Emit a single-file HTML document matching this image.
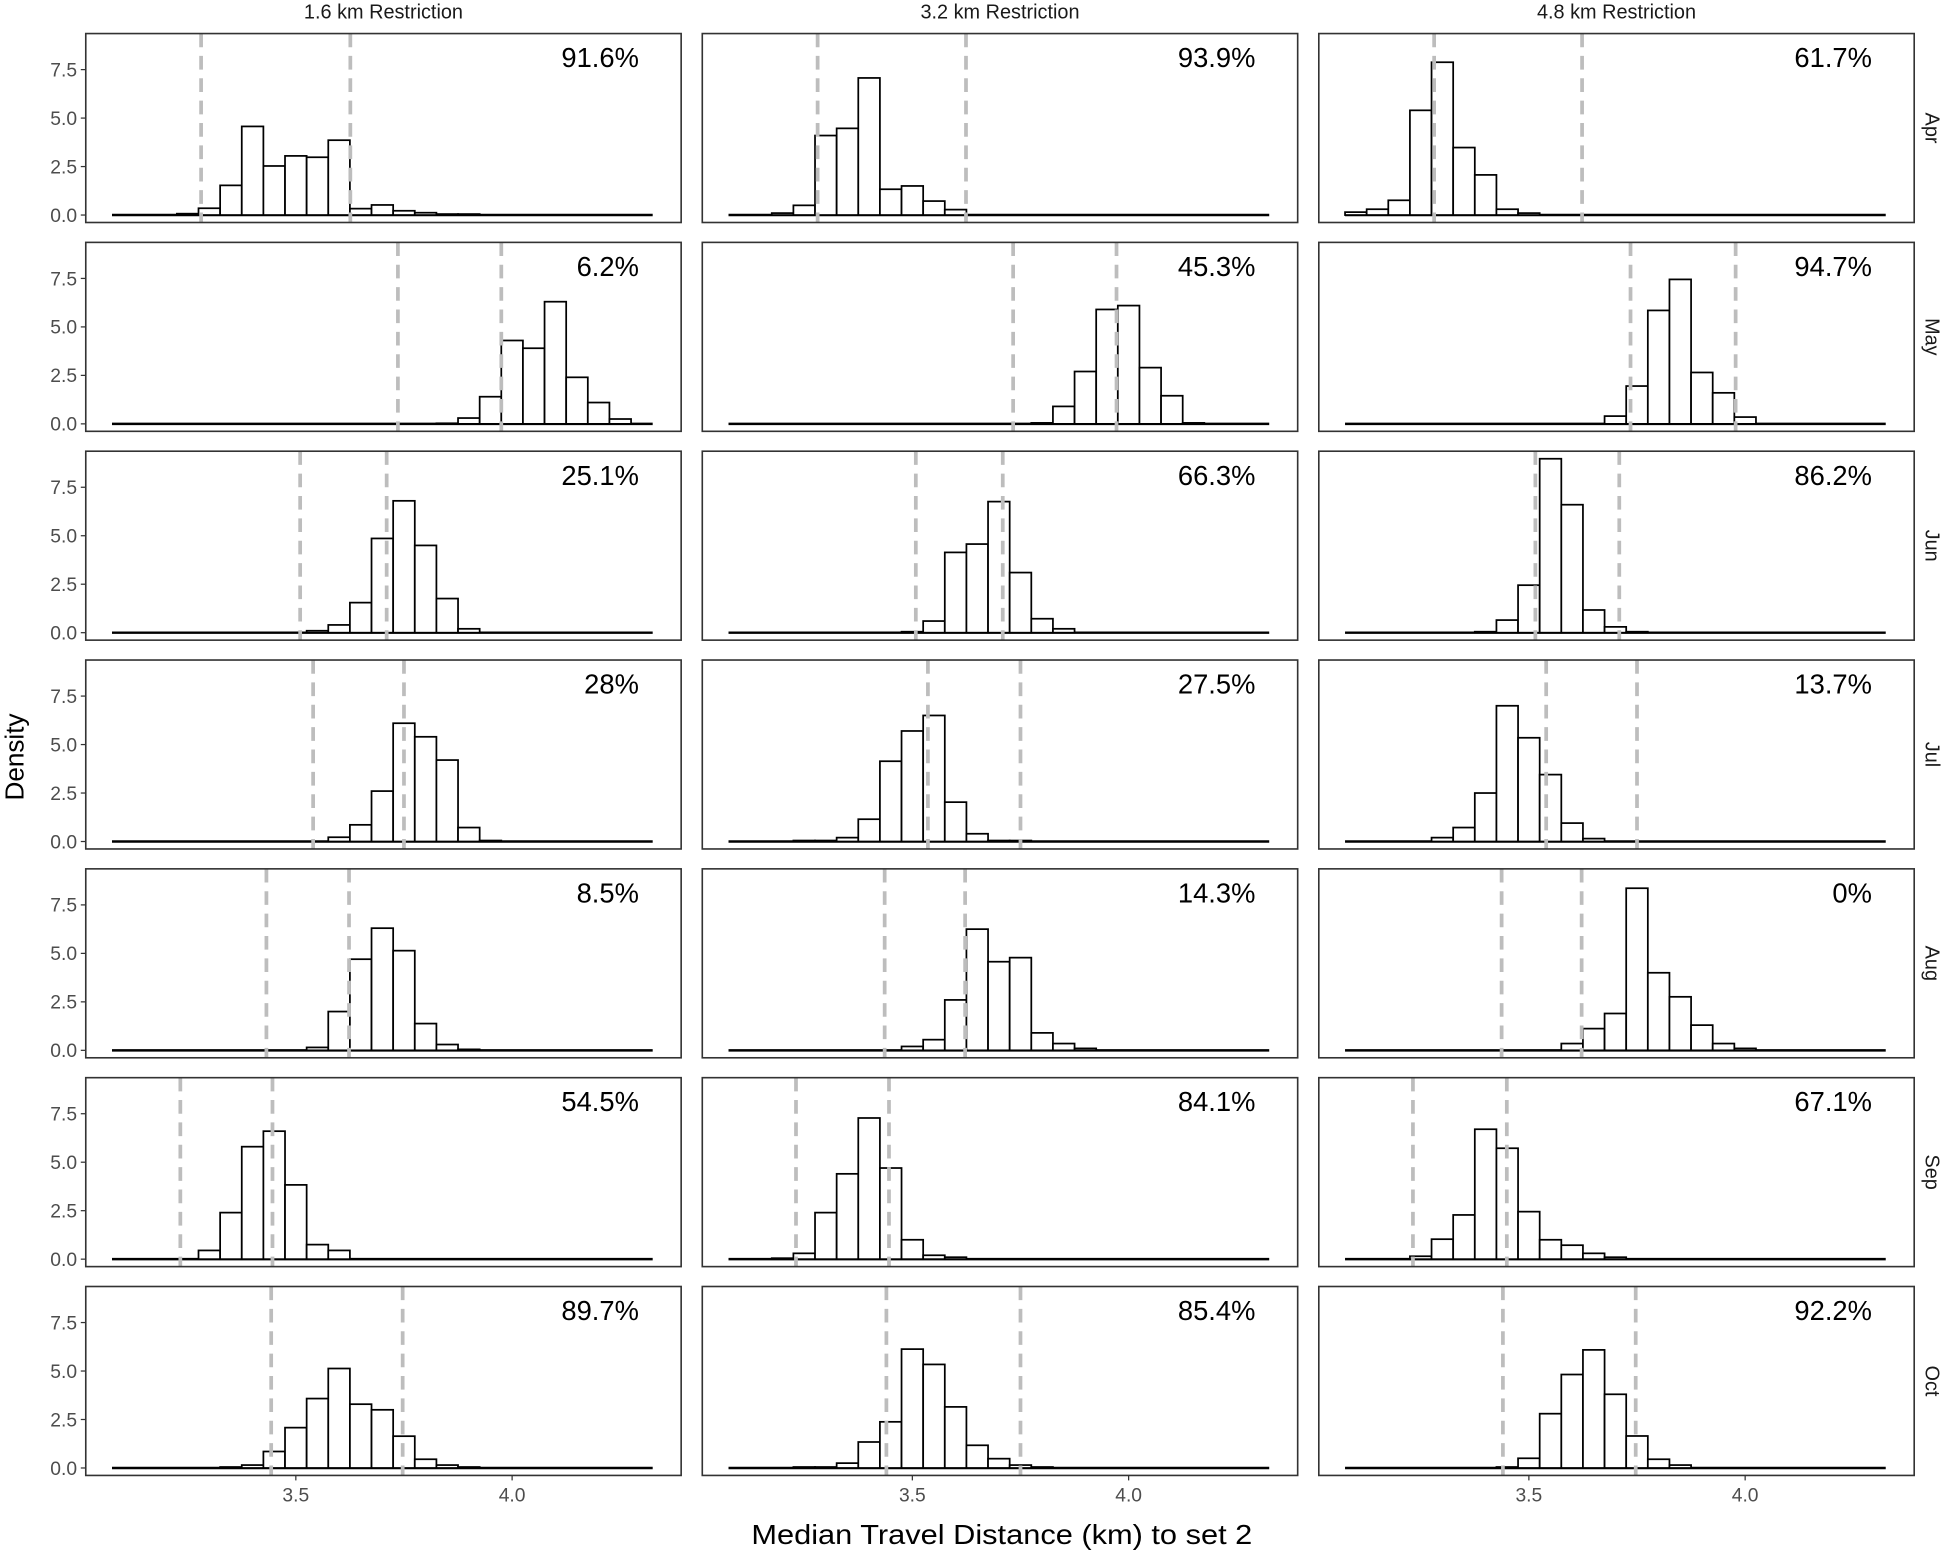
<!DOCTYPE html>
<html><head><meta charset="utf-8">
<style>
html,body{margin:0;padding:0;background:#fff;}
svg{display:block;font-family:"Liberation Sans",Arial,sans-serif;}
</style></head>
<body>
<svg id="chart" width="1949" height="1553" viewBox="0 0 1568 1249.4" preserveAspectRatio="none" xmlns="http://www.w3.org/2000/svg">
<text x="0" y="0" transform="translate(19,609) rotate(-90)" font-size="21" text-anchor="middle" fill="#000">Density</text>
<text x="806" y="1242" font-size="22" text-anchor="middle" textLength="403" lengthAdjust="spacingAndGlyphs" fill="#000">Median Travel Distance (km) to set 2</text>
</svg>
<script>
const columns = ["1.6 km Restriction", "3.2 km Restriction", "4.8 km Restriction"];
const months = ["Apr", "May", "Jun", "Jul", "Aug", "Sep", "Oct"];
const yTicks = [0, 2.5, 5, 7.5];
const yTickLabels = ["0.0", "2.5", "5.0", "7.5"];
const xTicks = [3.5, 4.0];
const xTickLabels = ["3.5", "4.0"];
const binWidth = 0.05;
// first bin centre per panel [month][column]
const binStart = [
  [3.25, 3.20, 3.10],
  [3.85, 3.80, 3.70],
  [3.55, 3.50, 3.40],
  [3.60, 3.25, 3.30],
  [3.55, 3.50, 3.60],
  [3.30, 3.20, 3.25],
  [3.35, 3.25, 3.45]
];
const densities = [
  [[0.07,0.35,1.53,4.57,2.53,3.05,2.98,3.86,0.33,0.52,0.22,0.12,0.05,0.05],
   [0.1,0.5,4.1,4.47,7.07,1.33,1.5,0.72,0.28],
   [0.15,0.3,0.76,5.4,7.88,3.48,2.07,0.3,0.1]],
  [[0.03,0.3,1.4,4.3,3.9,6.3,2.4,1.1,0.25],
   [0.05,0.9,2.7,5.9,6.1,2.9,1.45,0.05],
   [0.4,1.95,5.85,7.45,2.65,1.6,0.35]],
  [[0.1,0.4,1.55,4.86,6.8,4.5,1.76,0.2],
   [0.05,0.6,4.14,4.57,6.76,3.1,0.72,0.2],
   [0.05,0.65,2.45,8.97,6.6,1.17,0.3,0.05]],
  [[0.22,0.86,2.6,6.1,5.4,4.2,0.72,0.05],
   [0.05,0.05,0.2,1.15,4.14,5.7,6.5,2.03,0.4,0.05,0.05],
   [0.2,0.72,2.5,7.0,5.35,3.45,0.95,0.15]],
  [[0.15,2.0,4.7,6.3,5.14,1.38,0.3,0.05],
   [0.2,0.55,2.6,6.25,4.57,4.78,0.9,0.35,0.1],
   [0.35,1.12,1.9,8.36,4.0,2.76,1.3,0.35,0.1]],
  [[0.45,2.4,5.8,6.6,3.83,0.75,0.45],
   [0.05,0.3,2.4,4.4,7.28,4.7,1.0,0.2,0.1],
   [0.15,1.03,2.28,6.7,5.72,2.45,1.0,0.72,0.3,0.1]],
  [[0.05,0.15,0.85,2.08,3.58,5.13,3.29,3.0,1.64,0.45,0.15,0.05],
   [0.05,0.05,0.25,1.34,2.38,6.13,5.34,3.15,1.17,0.48,0.15,0.05],
   [0.05,0.5,2.8,4.82,6.09,3.8,1.65,0.45,0.15]]
];
const ciLow = [
  [3.281,3.281,3.281],[3.736,3.733,3.735],[3.510,3.508,3.515],
  [3.540,3.536,3.540],[3.432,3.436,3.437],[3.233,3.231,3.232],[3.443,3.440,3.440]
];
const ciHigh = [
  [3.626,3.624,3.623],[3.975,3.972,3.978],[3.710,3.709,3.709],
  [3.750,3.750,3.750],[3.623,3.622,3.622],[3.446,3.446,3.449],[3.747,3.750,3.747]
];
const pctLabels = [
  ["91.6%","93.9%","61.7%"],["6.2%","45.3%","94.7%"],["25.1%","66.3%","86.2%"],
  ["28%","27.5%","13.7%"],["8.5%","14.3%","0%"],["54.5%","84.1%","67.1%"],["89.7%","85.4%","92.2%"]
];
const xDomain = [3.075, 4.325];

const svg = document.getElementById('chart');
const NS = 'http://www.w3.org/2000/svg';
const colX = [69, 565, 1061];
const panelW = 479, panelH = 152, rowTop0 = 27, rowPitch = 168;
function xScale(c, v){ return colX[c] + 169 + (v - 3.5) * 348; }
function yScale(r, d){ return rowTop0 + r*rowPitch + 146 - d * 15.6; }
function mk(tag, attrs){ const e = document.createElementNS(NS, tag); for (const k in attrs) e.setAttribute(k, attrs[k]); svg.appendChild(e); return e; }

columns.forEach((name, c) => {
  const t = mk('text', {x: colX[c] + panelW/2, y: 15, 'font-size': 16, 'text-anchor': 'middle', fill: '#1a1a1a'});
  t.textContent = name;
  
  
});

months.forEach((m, r) => {
  const top = rowTop0 + r*rowPitch;
  const s = mk('text', {x: 0, y: 0, transform: `translate(1549,${top+panelH/2}) rotate(90)`, 'font-size': 16, 'text-anchor': 'middle', fill: '#1a1a1a'});
  s.textContent = m;
  
  
  yTicks.forEach((v, i) => {
    const y = yScale(r, v);
    const tk = mk('line', {x1: 65, x2: 69, y1: y, y2: y, stroke: '#333', 'stroke-width': 1});
    
    
    const tl = mk('text', {x: 62, y: y + 5.5, 'font-size': 15.5, 'text-anchor': 'end', fill: '#4d4d4d'});
    tl.textContent = yTickLabels[i];
    
    
  });
  columns.forEach((cn, c) => {
    const bg = mk('rect', {x: colX[c], y: top, width: panelW, height: panelH, fill: '#fff', stroke: 'none'});
    
    
    const base = mk('line', {x1: xScale(c, xDomain[0]), x2: xScale(c, xDomain[1]), y1: yScale(r, 0), y2: yScale(r, 0), stroke: '#000', 'stroke-width': 2});
    
    
    densities[r][c].forEach((d, i) => {
      const ctr = binStart[r][c] + i * binWidth;
      const x0 = xScale(c, ctr - binWidth/2), x1 = xScale(c, ctr + binWidth/2);
      const y0 = yScale(r, d), yb = yScale(r, 0);
      const b = mk('rect', {x: x0, y: y0, width: x1 - x0, height: yb - y0, fill: '#fff', stroke: '#000', 'stroke-width': 1.4});
      
      
    });
    [ciLow[r][c], ciHigh[r][c]].forEach(v => {
      const l = mk('line', {x1: xScale(c, v), x2: xScale(c, v), y1: top, y2: top + panelH, stroke: '#bdbdbd', 'stroke-width': 3, 'stroke-dasharray': '11,7'});
      
      
    });
    const p = mk('text', {x: colX[c] + 445, y: top + 27, 'font-size': 22, 'text-anchor': 'end', fill: '#000'});
    p.textContent = pctLabels[r][c];
    
    
    const fr = mk('rect', {x: colX[c], y: top, width: panelW, height: panelH, fill: 'none', stroke: '#333', 'stroke-width': 1.3});
    
    
  });
});

const bottom = rowTop0 + 6*rowPitch + panelH;
columns.forEach((cn, c) => {
  xTicks.forEach((v, i) => {
    const x = xScale(c, v);
    const tk = mk('line', {x1: x, x2: x, y1: bottom, y2: bottom + 4, stroke: '#333', 'stroke-width': 1});
    
    
    const tl = mk('text', {x: x, y: bottom + 21, 'font-size': 15.5, 'text-anchor': 'middle', fill: '#4d4d4d'});
    tl.textContent = xTickLabels[i];
    
    
  });
});
</script>
</body></html>
